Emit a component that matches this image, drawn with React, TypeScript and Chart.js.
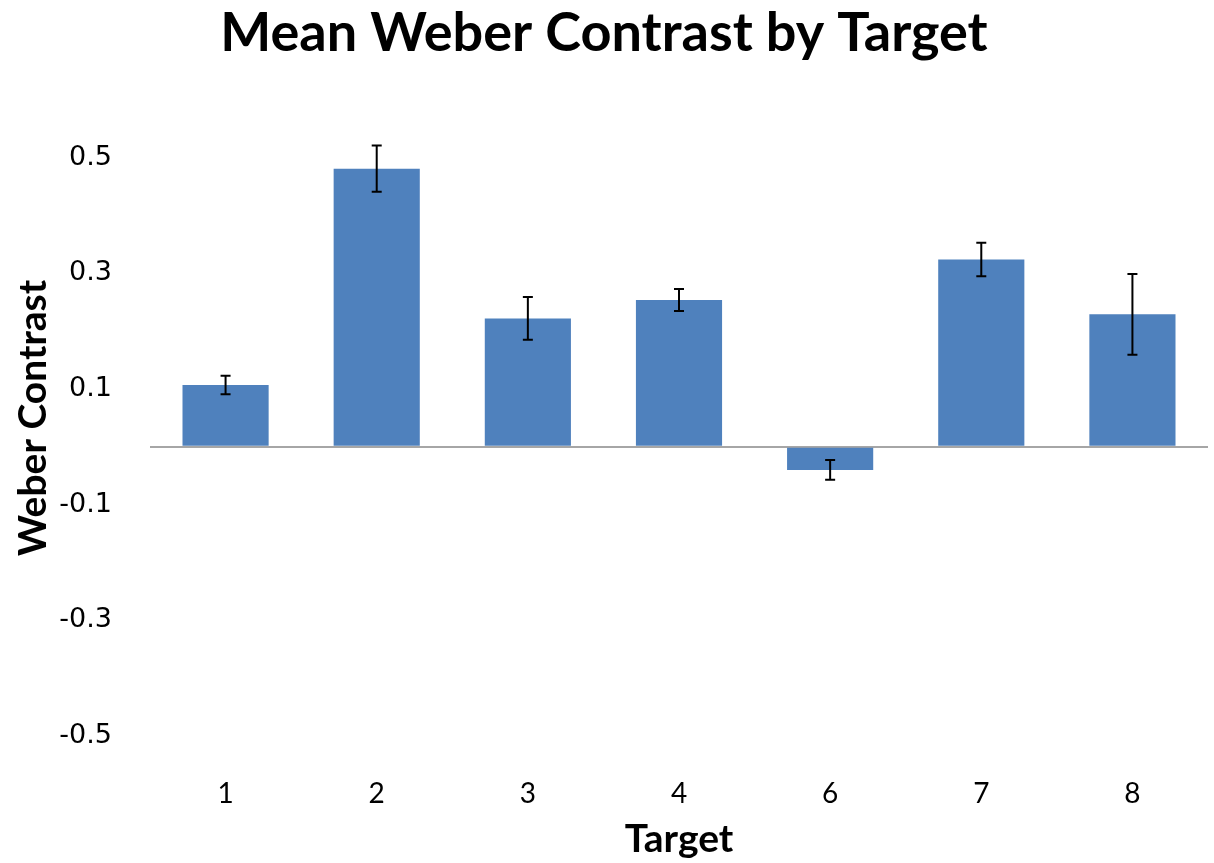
import React, { useEffect, useRef } from "react";
import { Chart, registerables } from "chart.js";

Chart.register(...registerables);

const categories = ["1", "2", "3", "4", "6", "7", "8"];
const meanContrast = [0.107, 0.481, 0.222, 0.254, -0.04, 0.324, 0.229];
const errorMargin = [0.016, 0.04, 0.037, 0.019, 0.017, 0.029, 0.07];
const yTickValues = [-0.5, -0.3, -0.1, 0, 0.1, 0.3, 0.5];

const errorBarPlugin = {
  id: "errorBars",
  afterDatasetsDraw(chart: any) {
    const meta = chart.getDatasetMeta(0);
    const yScale = chart.scales.y;
    const ctx = chart.ctx;
    ctx.save();
    ctx.strokeStyle = "#000000";
    ctx.lineWidth = 2;
    meta.data.forEach((bar: any, i: number) => {
      const x = bar.x;
      const top = yScale.getPixelForValue(meanContrast[i] + errorMargin[i]);
      const bot = yScale.getPixelForValue(meanContrast[i] - errorMargin[i]);
      const cap = 5;
      ctx.beginPath();
      ctx.moveTo(x, top);
      ctx.lineTo(x, bot);
      ctx.moveTo(x - cap, top);
      ctx.lineTo(x + cap, top);
      ctx.moveTo(x - cap, bot);
      ctx.lineTo(x + cap, bot);
      ctx.stroke();
    });
    ctx.restore();
  },
};

export default function App() {
  const ref = useRef<HTMLCanvasElement | null>(null);
  useEffect(() => {
    if (!ref.current) return;
    const chart = new Chart(ref.current, {
      type: "bar",
      data: {
        labels: categories,
        datasets: [
          {
            data: meanContrast,
            backgroundColor: "#4F81BD",
            borderWidth: 0,
            categoryPercentage: 1,
            barPercentage: 0.57,
          },
        ],
      },
      plugins: [errorBarPlugin],
      options: {
        animation: false,
        responsive: false,
        layout: { padding: { left: 0, right: 6, top: 0, bottom: 0 } },
        plugins: {
          legend: { display: false },
          tooltip: { enabled: false },
          title: {
            display: true,
            text: "Mean Weber Contrast by Target",
            color: "#000000",
            font: { family: "Lato", size: 54, weight: "bold", lineHeight: 1.2 },
            padding: { top: 1, bottom: 34 },
          },
        },
        scales: {
          x: {
            grid: { display: false },
            border: { display: false },
            ticks: {
              color: "#000000",
              font: { family: "Lato", size: 28 },
              padding: 33,
            },
            title: {
              display: true,
              text: "Target",
              color: "#000000",
              font: { family: "Lato", size: 39, weight: "bold", lineHeight: 1.2 },
              padding: { top: 0, bottom: 0 },
            },
            afterFit(scale: any) {
              scale.height = 127;
            },
          },
          y: {
            min: -0.5,
            max: 0.6,
            border: { display: false },
            afterBuildTicks(scale: any) {
              scale.ticks = yTickValues.map((v) => ({ value: v }));
            },
            grid: {
              drawTicks: false,
              lineWidth: 2,
              color: (c: any) => (c.tick && c.tick.value === 0 ? "#A6A6A6" : "rgba(0,0,0,0)"),
            },
            ticks: {
              color: "#000000",
              font: { family: "DejaVu Sans", size: 27 },
              padding: 38,
              callback: (v: any) => (Number(v) === 0 ? "" : Number(v).toFixed(1)),
            },
            title: {
              display: true,
              text: "Weber Contrast",
              color: "#000000",
              font: { family: "Lato", size: 39, weight: "bold", lineHeight: 1.2 },
              padding: { top: 10, bottom: 0 },
            },
            afterFit(scale: any) {
              scale.width = 150;
            },
          },
        },
      },
    });
    return () => chart.destroy();
  }, []);
  return (
    <div style={{ position: "fixed", left: 0, top: 0, width: 1214, height: 863, background: "#fff" }}>
      <canvas ref={ref} width={1214} height={863} />
    </div>
  );
}
